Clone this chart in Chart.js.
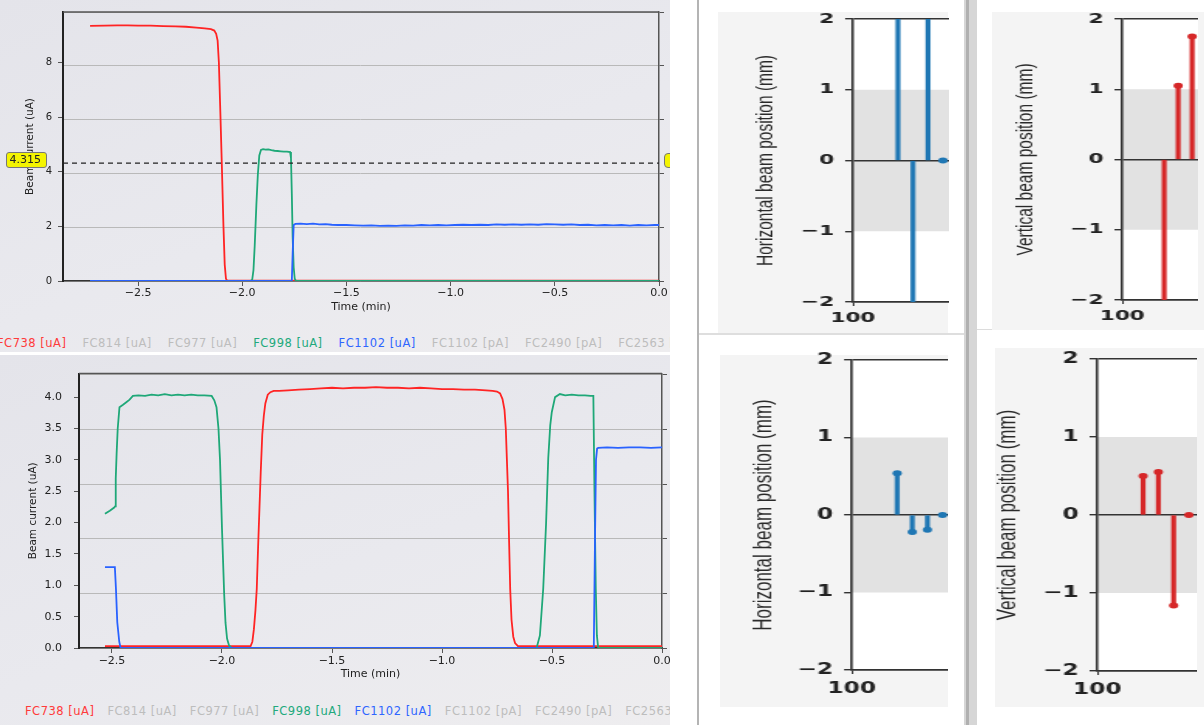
<!DOCTYPE html>
<html>
<head>
<meta charset="utf-8">
<script src="https://cdn.jsdelivr.net/npm/chart.js@4.4.1/dist/chart.umd.min.js"></script>
<style>
html, body { margin: 0; padding: 0; }
body { width: 1204px; height: 725px; position: relative; overflow: hidden; background: #fff; font-family: "DejaVu Sans", sans-serif; }
.panel { position: absolute; overflow: hidden; background: linear-gradient(160deg, #e4e4ea 0%, #e9e9ee 55%, #eeedef 100%); }
#topPanel { left: 0; top: 0; width: 670px; height: 352px; }
#botPanel { left: 0; top: 355px; width: 670px; height: 370px; }
.panel canvas { position: absolute; left: 0; top: 0; }
.legend { position: absolute; display: flex; white-space: nowrap; font-size: 11.5px; letter-spacing: 0.5px; line-height: 14px; }
#legendTop { left: -3px; top: 336px; gap: 16px; }
#legendBot { left: 25px; top: 349px; gap: 13px; }
.tag { position: absolute; left: 6px; top: 152px; width: 41px; height: 16px; box-sizing: border-box; background: #f4f400; border: 1px solid #777; border-radius: 3px; font-size: 11px; line-height: 14px; text-align: right; padding-right: 5px; color: #222; }
.tagR { position: absolute; left: 664px; top: 153px; width: 14px; height: 15px; box-sizing: border-box; background: #f4f400; border: 1px solid #777; border-radius: 4px; }
.figbg { position: absolute; background: #f4f4f4; }
.stem { position: absolute; transform: scaleX(1.55); transform-origin: 0 0; }
.line { position: absolute; }
</style>
</head>
<body>

<div class="line" style="left:697px; top:0; width:2px; height:725px; background:#b4b4b4"></div>
<div class="line" style="left:699px; top:333px; width:265px; height:2px; background:#dedede"></div>
<div class="line" style="left:964px; top:0; width:13px; height:725px; background:#d6d6d6"></div>
<div class="line" style="left:966px; top:0; width:3px; height:725px; background:#b0b0b0"></div>
<div class="line" style="left:977px; top:329px; width:227px; height:1px; background:#dcdcdc"></div>

<div class="figbg" style="left:718px; top:12px; width:230px; height:321px"></div>
<div class="figbg" style="left:992px; top:12px; width:212px; height:318px"></div>
<div class="figbg" style="left:720px; top:355px; width:228px; height:352px"></div>
<div class="figbg" style="left:995px; top:348px; width:209px; height:359px"></div>

<canvas id="hTop" class="stem" width="149" height="333" style="left:718px; top:0px"></canvas>
<canvas id="vTop" class="stem" width="133" height="331" style="left:992px; top:0px"></canvas>
<canvas id="hBot" class="stem" width="147" height="367" style="left:720px; top:340px"></canvas>
<canvas id="vBot" class="stem" width="130" height="369" style="left:995px; top:339px"></canvas>

<div class="panel" id="topPanel">
  <canvas id="beamTop" width="700" height="325"></canvas>
  <div class="tag">4.315</div>
  <div class="tagR"></div>
  <div class="legend" id="legendTop"></div>
</div>

<div class="panel" id="botPanel">
  <canvas id="beamBot" width="700" height="340"></canvas>
  <div class="legend" id="legendBot"></div>
</div>

<script>
//---------------- Data

//Legend entries of the beam current plots
var legendNames = ["FC738 [uA]", "FC814 [uA]", "FC977 [uA]", "FC998 [uA]", "FC1102 [uA]", "FC1102 [pA]", "FC2490 [pA]", "FC2563 [pA]"]
var legendColors = ["#ff3b3b", "#bdbdbd", "#bdbdbd", "#22a97c", "#2f66ff", "#bdbdbd", "#bdbdbd", "#bdbdbd"]

//Threshold shown by the dashed line (uA)
var thresholdLevel = 4.315

//Top plot, [time (min), current (uA)]
var fc738Top = [[-2.73,9.34],[-2.66,9.35],[-2.6,9.36],[-2.55,9.36],[-2.5,9.35],[-2.44,9.35],[-2.38,9.33],[-2.32,9.32],[-2.27,9.31],[-2.22,9.28],[-2.18,9.25],[-2.15,9.22],[-2.134,9.17],[-2.125,9.05],[-2.118,8.8],[-2.112,8.0],[-2.105,6.2],[-2.098,4.3],[-2.09,2.0],[-2.084,0.6],[-2.078,0.08],[-2.072,0.01],[0,0.01]]
var fc998Top = [[-2.73,0],[-1.96,0],[-1.952,0.05],[-1.946,0.4],[-1.94,1.3],[-1.932,2.8],[-1.925,3.9],[-1.918,4.6],[-1.91,4.8],[-1.9,4.83],[-1.888,4.81],[-1.875,4.82],[-1.86,4.79],[-1.845,4.77],[-1.83,4.76],[-1.815,4.75],[-1.8,4.74],[-1.785,4.74],[-1.77,4.72],[-1.766,4.5],[-1.762,3.2],[-1.758,1.6],[-1.753,0.5],[-1.748,0.08],[-1.742,0],[0,0]]
var fc1102Top = [[-2.73,0],[-1.762,0],[-1.758,1.0],[-1.753,2.05],[-1.745,2.09],[-1.72,2.1],[-1.69,2.08],[-1.66,2.1],[-1.63,2.07],[-1.6,2.08],[-1.57,2.06],[-1.54,2.05],[-1.5,2.05],[-1.46,2.04],[-1.42,2.03],[-1.38,2.04],[-1.34,2.02],[-1.3,2.03],[-1.26,2.02],[-1.22,2.04],[-1.18,2.03],[-1.14,2.05],[-1.1,2.04],[-1.06,2.05],[-1.02,2.04],[-0.98,2.05],[-0.94,2.06],[-0.9,2.05],[-0.86,2.06],[-0.82,2.05],[-0.78,2.07],[-0.74,2.06],[-0.7,2.07],[-0.66,2.06],[-0.62,2.07],[-0.58,2.06],[-0.54,2.08],[-0.5,2.07],[-0.46,2.06],[-0.42,2.07],[-0.38,2.05],[-0.34,2.06],[-0.3,2.04],[-0.26,2.05],[-0.22,2.04],[-0.18,2.05],[-0.14,2.03],[-0.1,2.05],[-0.06,2.04],[-0.02,2.05],[0,2.05]]

//Bottom plot, [time (min), current (uA)]
var fc738Bot = [[-2.532,0.03],[-1.87,0.03],[-1.862,0.1],[-1.855,0.3],[-1.848,0.6],[-1.842,0.94],[-1.836,1.6],[-1.83,2.2],[-1.824,2.8],[-1.817,3.4],[-1.81,3.7],[-1.803,3.9],[-1.792,4.04],[-1.78,4.08],[-1.765,4.1],[-1.74,4.1],[-1.7,4.11],[-1.65,4.12],[-1.6,4.13],[-1.55,4.14],[-1.5,4.15],[-1.45,4.14],[-1.4,4.15],[-1.35,4.15],[-1.3,4.16],[-1.25,4.15],[-1.2,4.15],[-1.15,4.14],[-1.1,4.15],[-1.05,4.14],[-1.0,4.13],[-0.95,4.13],[-0.9,4.12],[-0.85,4.12],[-0.8,4.11],[-0.77,4.1],[-0.75,4.09],[-0.736,4.06],[-0.725,3.97],[-0.716,3.8],[-0.71,3.5],[-0.705,3.0],[-0.7,2.5],[-0.695,1.7],[-0.69,0.94],[-0.684,0.45],[-0.676,0.18],[-0.668,0.08],[-0.655,0.03],[0,0.03]]
var fc998Bot = [[-2.532,2.14],[-2.51,2.19],[-2.49,2.24],[-2.486,2.26],[-2.483,2.7],[-2.479,3.1],[-2.474,3.5],[-2.466,3.84],[-2.45,3.88],[-2.435,3.92],[-2.42,3.96],[-2.405,4.02],[-2.38,4.03],[-2.35,4.02],[-2.32,4.04],[-2.29,4.03],[-2.26,4.05],[-2.23,4.03],[-2.2,4.04],[-2.17,4.03],[-2.14,4.04],[-2.11,4.03],[-2.08,4.03],[-2.047,4.02],[-2.035,3.95],[-2.025,3.84],[-2.016,3.5],[-2.009,3.0],[-2.0,1.9],[-1.99,0.85],[-1.984,0.4],[-1.977,0.15],[-1.968,0.04],[-1.956,0],[-0.57,0],[-0.555,0.2],[-0.54,0.94],[-0.527,1.98],[-0.517,3.03],[-0.508,3.55],[-0.501,3.76],[-0.486,4.0],[-0.464,4.05],[-0.44,4.03],[-0.41,4.04],[-0.38,4.03],[-0.35,4.03],[-0.325,4.02],[-0.312,4.02],[-0.307,2.5],[-0.301,0.94],[-0.296,0.2],[-0.29,0],[0,0]]
var fc1102Bot = [[-2.532,1.29],[-2.487,1.29],[-2.482,0.94],[-2.476,0.41],[-2.467,0.1],[-2.461,0],[-0.31,0],[-0.305,1.6],[-0.3,3.0],[-0.295,3.18],[-0.29,3.19],[-0.25,3.2],[-0.2,3.19],[-0.15,3.2],[-0.1,3.2],[-0.05,3.19],[0,3.2]]

//Beam position stems, position index and offset (mm)
var stemX = [103, 104, 105, 106]
var horizTop = [2.5, -2.5, 2.5, 0]
var vertTop = [-2.5, 1.05, 1.75, 0]
var horizBot = [0.54, -0.22, -0.19, 0]
var vertBot = [0.5, 0.55, -1.16, 0]
var toleranceBand = [-1, 1]

Chart.defaults.font.family = "DejaVu Sans"
Chart.defaults.color = "#222"

//---------------- Helpers

//Formats a tick with a real minus sign
function fmt(v, d) {
    if (Math.abs(v) < 1e-9) v = 0
    return (v < 0 ? "\u2212" : "") + Math.abs(v).toFixed(d)
}

function toPoints(arr) {
    return arr.map(function (p) { return {x: p[0], y: p[1]} })
}

//Builds the coloured legend rows under the current plots
function fillLegend(id) {
    var box = document.getElementById(id)
    for (var i = 0; i < legendNames.length; i++) {
        var s = document.createElement("span")
        s.textContent = legendNames[i]
        s.style.color = legendColors[i]
        box.appendChild(s)
    }
}
fillLegend("legendTop")
fillLegend("legendBot")

//Top spine of the current plots
var frameTop = {
    id: "frameTop",
    afterDraw: function (chart) {
        var a = chart.chartArea, c = chart.ctx
        c.save()
        c.strokeStyle = "#555"
        c.lineWidth = 1.5
        c.beginPath()
        c.moveTo(a.left, a.top)
        c.lineTo(a.right, a.top)
        c.stroke()
        c.restore()
    }
}

//White plot area with the grey +-1 mm band
var bandPlugin = {
    id: "band",
    beforeDraw: function (chart) {
        var a = chart.chartArea, c = chart.ctx, y = chart.scales.y
        c.save()
        c.fillStyle = "#fff"
        c.fillRect(a.left, a.top, a.right - a.left, a.bottom - a.top)
        var yHi = y.getPixelForValue(toleranceBand[1])
        var yLo = y.getPixelForValue(toleranceBand[0])
        c.fillStyle = "#e2e2e2"
        c.fillRect(a.left, yHi, a.right - a.left, yLo - yHi)
        c.restore()
    }
}

//---------------- Beam current plots

function beamChart(id, series, o) {
    var sets = series.map(function (s) {
        return {
            data: toPoints(s.pts), borderColor: s.color, borderWidth: s.width || 1.8,
            borderDash: s.dash || [], showLine: true, pointRadius: 0, tension: 0
        }
    })
    return new Chart(document.getElementById(id), {
        type: "scatter",
        data: { datasets: sets },
        options: {
            responsive: false, animation: false, events: [],
            layout: { autoPadding: false, padding: { top: o.padTop, left: 0, right: 0, bottom: 0 } },
            plugins: { legend: { display: false }, tooltip: { enabled: false } },
            scales: {
                x: {
                    type: "linear", min: o.xMin, max: 0,
                    afterFit: function (s) { s.height = o.xH },
                    ticks: { stepSize: 0.5, includeBounds: false, maxRotation: 0, padding: o.xTickPad, color: "#222", font: { size: 11 },
                        callback: function (v) { return fmt(v, 1) } },
                    grid: { drawOnChartArea: false, tickLength: 5, tickColor: "#555" },
                    border: { color: "#333", width: 1.5 },
                    title: { display: true, text: "Time (min)", color: "#222", font: { size: 11 }, padding: { top: 0, bottom: o.xTitlePad } }
                },
                y: {
                    type: "linear", position: "left", min: 0, max: o.yMax,
                    afterFit: function (s) { s.width = o.yW },
                    ticks: { stepSize: o.yStep, includeBounds: false, padding: o.yTickPad, color: "#222", font: { size: o.yFont },
                        callback: function (v) { return fmt(v, o.yDec) } },
                    grid: { drawOnChartArea: false, tickLength: 5, tickColor: "#555" },
                    border: { color: "#222", width: 2 },
                    title: { display: true, text: "Beam current (uA)", color: "#222", font: { size: 10.5 }, padding: { top: o.yTitlePad, bottom: 0 } }
                },
                y1: {
                    type: "linear", position: "right", min: 0, max: o.y1Max,
                    afterFit: function (s) { s.width = o.y1W },
                    ticks: { display: false, stepSize: 1, includeBounds: false },
                    grid: { color: "#b9b9b9", lineWidth: 1, tickLength: 5, tickColor: "#555" },
                    border: { color: "#555", width: 1.5 }
                }
            }
        },
        plugins: [frameTop]
    })
}

var xMinTop = -2.86
beamChart("beamTop", [
    { pts: [[xMinTop, thresholdLevel], [0, thresholdLevel]], color: "#222", dash: [5, 4], width: 1.3 },
    { pts: fc1102Top, color: "#2962ff" },
    { pts: fc998Top, color: "#1fa878" },
    { pts: fc738Top, color: "#ff2424" }
], { padTop: 8, xMin: xMinTop, xH: 44, xTickPad: 1, xTitlePad: 11.4, yMax: 9.85, yStep: 2, yDec: 0, yFont: 10,
     yW: 63, yTickPad: 6, yTitlePad: 23.7, y1Max: 5.0, y1W: 41 })

beamChart("beamBot", [
    { pts: fc1102Bot, color: "#2962ff" },
    { pts: fc998Bot, color: "#1fa878" },
    { pts: fc738Bot, color: "#ff2424" }
], { padTop: 14, xMin: -2.65, xH: 47, xTickPad: 2, xTitlePad: 14.4, yMax: 4.376, yStep: 0.5, yDec: 1, yFont: 11,
     yW: 79, yTickPad: 12, yTitlePad: 26.7, y1Max: 5.02, y1W: 38 })

//---------------- Beam position stem plots

function stemChart(id, ys, color, title, o) {
    var pts = stemX.map(function (x, i) { return {x: x, y: ys[i]} })
    return new Chart(document.getElementById(id), {
        type: "bar",
        data: {
            datasets: [
                { type: "scatter", data: pts, pointRadius: 3, pointBackgroundColor: color, pointBorderWidth: 0, order: 0 },
                { type: "bar", data: pts, backgroundColor: color, barThickness: 2.5, order: 1 }
            ]
        },
        options: {
            responsive: false, animation: false, events: [],
            layout: { autoPadding: false, padding: { top: o.padTop, left: 0, right: 0, bottom: 0 } },
            plugins: { legend: { display: false }, tooltip: { enabled: false } },
            scales: {
                x: {
                    type: "linear", min: 100, max: o.xMax, offset: false,
                    afterFit: function (s) { s.height = o.xH; s.paddingRight = 0; s.paddingLeft = 0 },
                    ticks: { stepSize: 10, includeBounds: false, maxRotation: 0, padding: o.xPad, color: "#222", font: { size: o.tick, weight: "bold" } },
                    grid: { drawOnChartArea: false, offset: false, tickLength: 4, tickColor: "#333" },
                    border: { color: "#333", width: 1.4 }
                },
                y: {
                    min: -2, max: 2,
                    afterFit: function (s) { s.width = o.yW },
                    ticks: { stepSize: 1, padding: 7, color: "#222", font: { size: o.tick, weight: "bold" },
                        callback: function (v) { return fmt(v, 0) } },
                    grid: {
                        color: function (c) { return (c.tick && Math.abs(c.tick.value) === 1) ? "rgba(0,0,0,0)" : "#333" },
                        lineWidth: 1.4, tickLength: 5, tickColor: "#333"
                    },
                    border: { color: "#333", width: 1.6 },
                    title: { display: true, text: title, color: "#2a2a2a", font: { family: "Liberation Sans", size: o.titleSize, lineHeight: 1 },
                        padding: { top: o.titlePad, bottom: 0 } }
                }
            }
        },
        plugins: [bandPlugin]
    })
}

stemChart("hTop", horizTop, "#1f77b4", "Horizontal beam position (mm)",
    { padTop: 19, xH: 31, yW: 87, xMax: 106.4, tick: 14, xPad: 4, titleSize: 15.5, titlePad: 23 })
stemChart("vTop", vertTop, "#d62728", "Vertical beam position (mm)",
    { padTop: 19, xH: 31, yW: 84, xMax: 105.43, tick: 14, xPad: 4, titleSize: 15.5, titlePad: 13.5 })
stemChart("hBot", horizBot, "#1f77b4", "Horizontal beam position (mm)",
    { padTop: 20, xH: 37, yW: 85, xMax: 106.35, tick: 15, xPad: 6, titleSize: 17, titlePad: 20 })
stemChart("vBot", vertBot, "#d62728", "Vertical beam position (mm)",
    { padTop: 20, xH: 37, yW: 66, xMax: 106.5, tick: 15, xPad: 6, titleSize: 17, titlePad: 0 })
</script>
</body>
</html>
